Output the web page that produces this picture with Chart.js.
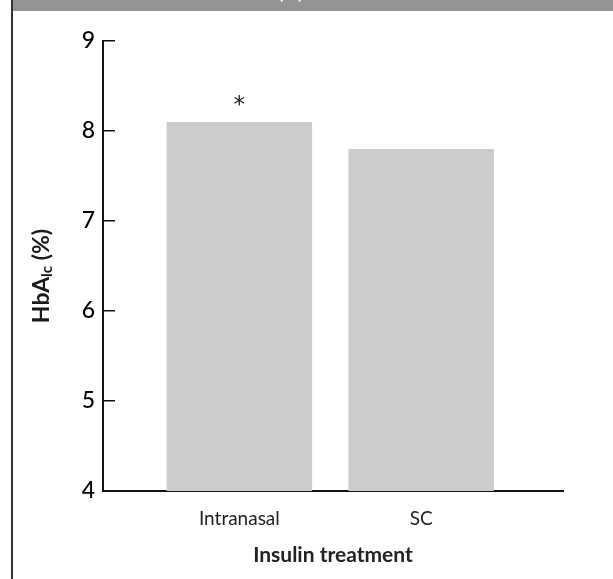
<!DOCTYPE html>
<html>
<head>
<meta charset="utf-8">
<script src="https://cdn.jsdelivr.net/npm/chart.js@4/dist/chart.umd.min.js"></script>
<style>
  html, body { margin: 0; padding: 0; background: #fff; }
  #wrap { position: relative; width: 613px; height: 579px; overflow: hidden; }
  #edge { position: absolute; left: 11px; top: 0; width: 2px; height: 579px; background: #333; }
  #head { position: absolute; left: 13px; top: 0; right: 0; height: 11px; background: #939396; overflow: hidden; }
  #head span { position: absolute; right: 310px; top: -17px; font: bold 18px Lato, sans-serif; line-height: 18px; color: #fff; white-space: nowrap; }
  #chart { position: absolute; left: 0; top: 0; }
</style>
</head>
<body>
<div id="wrap">
  <canvas id="chart" width="613" height="579"></canvas>
  <div id="edge"></div>
  <div id="head"><span>Mean HbA1c (%)</span></div>
</div>
<script>
// data
const categories = ["Intranasal", "SC"];
const hba1c = [8.1, 7.8];
const marks = ["*", ""];
const yTicks = [4, 5, 6, 7, 8, 9];

const font = "Lato, 'Liberation Sans', sans-serif";

// y title with the subscript, Chart.js titles can't do that
const yTitle = {
    id: "yTitle",
    afterDraw(chart) {
        const ctx = chart.ctx;
        const parts = [
            { t: "HbA", size: 23, dy: 0 },
            { t: "lc", size: 15, dy: 5 },
            { t: " (%)", size: 23, dy: 0 }
        ];
        ctx.save();
        let w = 0;
        parts.forEach(p => { ctx.font = "bold " + p.size + "px " + font; w += ctx.measureText(p.t).width; });
        ctx.translate(42, 276);
        ctx.rotate(-Math.PI / 2);
        ctx.fillStyle = "#1a1a1a";
        ctx.textBaseline = "middle";
        let x = -w / 2;
        parts.forEach(p => {
            ctx.font = "bold " + p.size + "px " + font;
            ctx.fillText(p.t, x, p.dy);
            x += ctx.measureText(p.t).width;
        });
        ctx.restore();
    }
};

// asterisk over the bar
const barMarks = {
    id: "barMarks",
    afterDatasetsDraw(chart) {
        const ctx = chart.ctx;
        const meta = chart.getDatasetMeta(0);
        ctx.save();
        ctx.font = "23px 'DejaVu Sans', sans-serif";
        ctx.fillStyle = "#222";
        ctx.textAlign = "center";
        ctx.textBaseline = "alphabetic";
        meta.data.forEach((bar, i) => {
            if (marks[i]) ctx.fillText(marks[i], bar.x, bar.y - 10);
        });
        ctx.restore();
    }
};

new Chart(document.getElementById("chart"), {
    type: "bar",
    data: {
        datasets: [{
            data: hba1c.map((v, i) => ({ x: i, y: v })),
            backgroundColor: "#cccccc",
            borderWidth: 0,
            barPercentage: 1,
            categoryPercentage: 0.8
        }]
    },
    options: {
        responsive: false,
        animation: false,
        layout: { padding: { left: 0, right: 50, top: 41, bottom: 0 } },
        plugins: { legend: { display: false }, tooltip: { enabled: false } },
        scales: {
            x: {
                type: "linear",
                offset: false,
                min: -0.75,
                max: 1.78,
                afterFit: s => { s.height = 88; },
                grid: { display: false, drawTicks: false },
                border: { display: true, color: "#111", width: 2 },
                ticks: {
                    stepSize: 1,
                    includeBounds: false,
                    padding: 16,
                    color: "#222",
                    font: { family: font, size: 19 },
                    callback: v => categories[v] ?? ""
                },
                title: {
                    display: true,
                    text: "Insulin treatment",
                    color: "#222",
                    font: { family: font, size: 21, weight: "bold" },
                    padding: { top: 0, bottom: 11 }
                }
            },
            y: {
                min: yTicks[0],
                max: yTicks[yTicks.length - 1],
                afterFit: s => { s.width = 103; },
                afterBuildTicks: s => { s.ticks = yTicks.map(v => ({ value: v })); },
                grid: { drawOnChartArea: false, tickLength: -12, color: "#111", lineWidth: 1.5 },
                border: { display: true, color: "#111", width: 2 },
                ticks: {
                    padding: 20,
                    color: "#000",
                    font: { family: font, size: 23, weight: "500" }
                }
            }
        }
    },
    plugins: [yTitle, barMarks]
});
</script>
</body>
</html>
